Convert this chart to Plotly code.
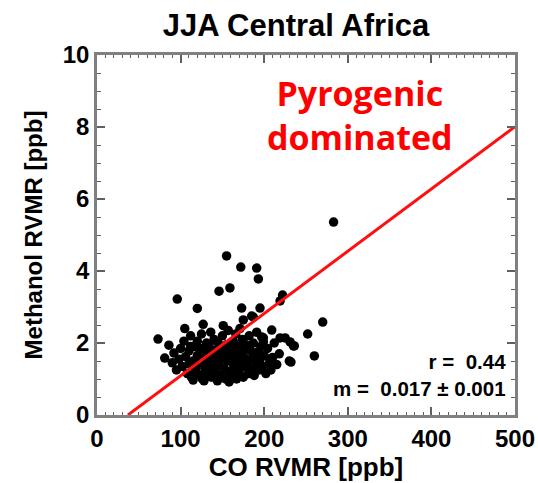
import plotly.graph_objects as go
import numpy as np

# CO RVMR [ppb] (x) and Methanol RVMR [ppb] (y)
co_outliers = [283, 155, 172, 191, 193, 146, 159, 96, 120, 173, 195, 222, 219, 270, 252, 260, 232, 235,
               225, 209, 197, 73, 86, 105, 127, 151, 175, 187, 185, 199, 183, 199, 230, 236, 231, 219]
meoh_outliers = [5.36, 4.42, 4.11, 4.08, 3.78, 3.44, 3.53, 3.22, 2.96, 2.97, 2.97, 3.33, 3.17, 2.58, 2.25, 1.64, 1.47, 1.92,
                 2.14, 2.36, 2.17, 2.11, 1.94, 2.40, 2.52, 2.48, 2.64, 2.72, 2.75, 2.14, 1.80, 2.03, 1.50, 1.92, 2.03, 2.14]

co_cluster = [81, 90, 92, 95, 98, 100, 102, 104, 106, 108, 110, 110, 112, 113, 115, 115, 117, 118, 120, 120,
              122, 123, 124, 125, 126, 127, 129, 130, 131, 132, 133, 134, 135, 136, 137, 138, 139, 140, 141, 142,
              143, 144, 145, 146, 147, 148, 149, 150, 152, 153, 154, 155, 156, 157, 158, 159, 160, 161, 162, 163,
              164, 165, 166, 167, 168, 169, 170, 171, 172, 173, 174, 175, 176, 177, 178, 180, 181, 182, 183, 185,
              186, 187, 188, 190, 191, 192, 194, 195, 196, 198, 200, 202, 204, 206, 208, 210, 212, 215, 218, 118,
              128, 138, 148, 158, 168, 112, 132, 142, 152, 162]
meoh_cluster = [1.58, 1.45, 1.72, 1.25, 1.55, 1.85, 1.35, 2.05, 1.62, 1.15, 1.42, 1.78, 2.20, 1.05, 0.97, 1.50, 1.90, 1.30, 1.65, 2.05,
                1.12, 1.45, 1.85, 2.25, 1.00, 1.55, 1.30, 1.75, 2.00, 1.15, 1.45, 1.95, 1.60, 2.30, 1.05, 1.35, 1.80, 2.10, 1.50, 1.20,
                1.70, 0.95, 2.00, 1.40, 1.85, 1.10, 1.60, 2.20, 1.30, 1.75, 1.00, 1.95, 1.50, 2.35, 1.20, 1.65, 1.85, 1.10, 1.45, 2.05,
                1.30, 1.70, 2.25, 1.00, 1.55, 1.90, 1.20, 2.40, 1.40, 1.75, 2.10, 1.05, 1.60, 1.35, 1.95, 1.50, 1.15, 2.20, 1.80, 1.30,
                1.60, 2.00, 1.10, 1.45, 2.30, 1.75, 1.25, 1.55, 1.90, 1.35, 1.65, 1.15, 1.85, 1.45, 1.25, 1.60, 2.00, 1.40, 1.70, 1.20,
                0.95, 1.25, 1.05, 0.92, 1.05, 1.90, 1.85, 1.65, 1.80, 1.55]

fit_slope = 0.0173
fit_intercept = -0.64

x_ticks = [0, 100, 200, 300, 400, 500]
y_ticks = [0, 2, 4, 6, 8, 10]

co = co_outliers + co_cluster
meoh = meoh_outliers + meoh_cluster

x_line = np.array([-fit_intercept / fit_slope, 500])
y_line = fit_slope * x_line + fit_intercept

fig = go.Figure()
fig.add_trace(go.Scatter(x=co, y=meoh, mode="markers",
                         marker=dict(color="black", size=9.5, line=dict(width=0)), showlegend=False))
fig.add_trace(go.Scatter(x=x_line, y=y_line, mode="lines",
                         line=dict(color="#ff1010", width=3), showlegend=False))

FAM = "Liberation Sans, Arial"
tickfont = dict(family=FAM, size=24, color="black", weight="bold")
axcommon = dict(showline=True, linecolor="#808080", linewidth=2.5, mirror="ticks",
                ticks="inside", tickcolor="#606060", ticklen=8, tickwidth=1.5,
                showgrid=False, zeroline=False, tickfont=tickfont, automargin=False)

fig.update_xaxes(range=[0, 500], tickvals=x_ticks, ticktext=[str(v) for v in x_ticks],
                 minor=dict(ticks="inside", dtick=10, ticklen=3, tickcolor="#606060", tickwidth=1.2),
                 title=dict(text="CO RVMR [ppb]", font=dict(family=FAM, size=26, color="black", weight="bold"), standoff=8),
                 **axcommon)
fig.update_yaxes(range=[0, 10], tickvals=y_ticks, ticktext=[str(v) for v in y_ticks],
                 minor=dict(ticks="inside", dtick=0.5, ticklen=4, tickcolor="#606060", tickwidth=1.2),
                 title=dict(text="Methanol RVMR [ppb]", font=dict(family=FAM, size=24, color="black", weight="bold"), standoff=14),
                 **axcommon)

fig.add_annotation(x=314, y=8.32, xref="x", yref="y", text="Pyrogenic<br>dominated", showarrow=False,
                   font=dict(family="Open Sans, Noto Sans", size=34, color="#ff0000", weight="bold"),
                   align="center")
fig.add_annotation(x=492, y=1.12, xref="x", yref="y", xanchor="right", text="r =  0.44<br>m =  0.017 ± 0.001",
                   showarrow=False, align="right",
                   font=dict(family=FAM, size=20.5, color="black", weight="bold"))

fig.update_layout(
    width=538, height=483,
    margin=dict(l=97, r=23, t=55, b=68),
    paper_bgcolor="white", plot_bgcolor="white",
    title=dict(text="JJA Central Africa", x=296 / 538, xanchor="center", y=1 - 25 / 483, yanchor="middle",
               font=dict(family=FAM, size=31, color="black", weight="bold")),
)

fig.write_html("out.html")
